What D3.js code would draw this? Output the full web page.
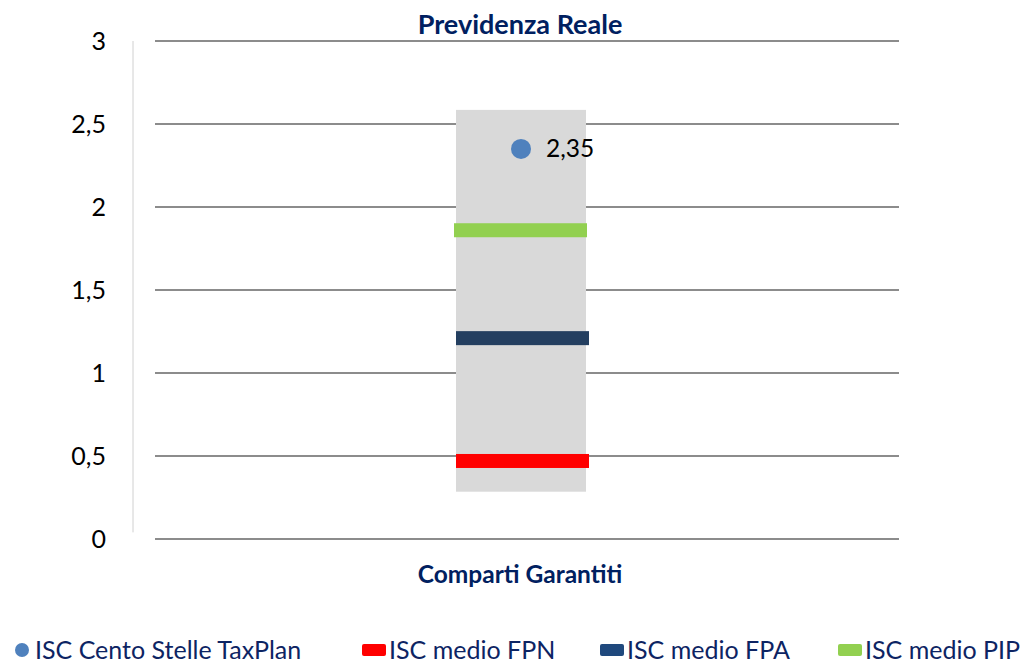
<!DOCTYPE html>
<html>
<head>
<meta charset="utf-8">
<script src="https://cdn.jsdelivr.net/npm/d3@7"></script>
<style>
  body { margin: 0; background: #fff; }
  svg { display: block; font-family: Lato, "Open Sans", sans-serif; }
</style>
</head>
<body>
<div id="chart"></div>
<script>
// data
const categories = ["Comparti Garantiti"];
const rangeMin = [0.285];
const rangeMax = [2.585];
const iscTaxPlan = [2.35];
const iscFPN = [0.47];
const iscFPA = [1.21];
const iscPIP = [1.86];
const yTicks = [0, 0.5, 1, 1.5, 2, 2.5, 3];

const width = 1033, height = 664;
const margin = { top: 41, right: 134, bottom: 125, left: 155 };
const fmt = d => String(d).replace(".", ",");

const svg = d3.select("#chart").append("svg")
    .attr("width", width)
    .attr("height", height);

const x = d3.scaleBand().domain(categories).range([margin.left, width - margin.right]);
const y = d3.scaleLinear().domain([0, 3]).range([height - margin.bottom, margin.top]);

// category centre sits a little left of the plot centre, like the original
const cx = c => x(c) + x.bandwidth() / 2 - 6;

// gridlines
svg.append("g")
    .selectAll("line")
    .data(yTicks)
    .join("line")
    .attr("x1", margin.left)
    .attr("x2", width - margin.right)
    .attr("y1", d => y(d))
    .attr("y2", d => y(d))
    .attr("stroke", "#8c8c8c")
    .attr("stroke-width", 2);

// y axis
const yAxis = svg.append("g")
    .attr("transform", `translate(133,0)`)
    .call(d3.axisLeft(y).tickValues(yTicks).tickFormat(fmt).tickSize(0).tickPadding(27))
    .attr("font-family", null);
yAxis.select(".domain").attr("stroke", "#d0d0d0").attr("d", `M0,${y(3)}V${y(0.04)}`);
yAxis.selectAll("text").attr("font-size", 25).attr("fill", "#000");

// min-max range box
svg.append("g")
    .selectAll("rect")
    .data(categories)
    .join("rect")
    .attr("x", c => cx(c) - 65)
    .attr("width", 130)
    .attr("y", (c, i) => y(rangeMax[i]))
    .attr("height", (c, i) => y(rangeMin[i]) - y(rangeMax[i]))
    .attr("fill", "#d9d9d9");

// average markers
const markers = [
    { name: "ISC medio FPN", values: iscFPN, color: "#ff0000", dx0: -65, dx1: 68 },
    { name: "ISC medio FPA", values: iscFPA, color: "#243f60", dx0: -65, dx1: 68 },
    { name: "ISC medio PIP", values: iscPIP, color: "#92d050", dx0: -67, dx1: 66 }
];
markers.forEach(m => {
    svg.append("g")
        .selectAll("rect")
        .data(categories)
        .join("rect")
        .attr("x", c => cx(c) + m.dx0)
        .attr("width", m.dx1 - m.dx0)
        .attr("y", (c, i) => y(m.values[i]) - 7)
        .attr("height", 14)
        .attr("fill", m.color);
});

// TaxPlan point + label
const pts = svg.append("g");
pts.selectAll("circle")
    .data(categories)
    .join("circle")
    .attr("cx", cx)
    .attr("cy", (c, i) => y(iscTaxPlan[i]))
    .attr("r", 10)
    .attr("fill", "#4f81bd");
pts.selectAll("text")
    .data(categories)
    .join("text")
    .attr("x", c => cx(c) + 25)
    .attr("y", (c, i) => y(iscTaxPlan[i]))
    .attr("dy", "0.35em")
    .attr("font-size", 24.5)
    .attr("fill", "#000")
    .text((c, i) => fmt(iscTaxPlan[i]));

// title and category label
svg.append("text")
    .attr("x", 520).attr("y", 34)
    .attr("text-anchor", "middle")
    .attr("font-size", 27).attr("font-weight", "bold")
    .attr("fill", "#002060")
    .text("Previdenza Reale");

svg.append("g")
    .selectAll("text")
    .data(categories)
    .join("text")
    .attr("x", 520).attr("y", 583)
    .attr("text-anchor", "middle")
    .attr("font-size", 24.5).attr("font-weight", "bold")
    .attr("fill", "#002060")
    .text(d => d);

// legend
const legend = [
    { name: "ISC Cento Stelle TaxPlan", color: "#4f81bd", shape: "circle", x: 12 },
    { name: "ISC medio FPN", color: "#ff0000", shape: "rect", x: 362 },
    { name: "ISC medio FPA", color: "#1f497d", shape: "rect", x: 600 },
    { name: "ISC medio PIP", color: "#92d050", shape: "rect", x: 838 }
];
const lg = svg.append("g").selectAll("g")
    .data(legend)
    .join("g")
    .attr("transform", d => `translate(${d.x},650)`);
lg.filter(d => d.shape === "circle").append("circle")
    .attr("cx", 10).attr("r", 7).attr("fill", d => d.color);
lg.filter(d => d.shape === "rect").append("rect")
    .attr("x", 0).attr("y", -6).attr("width", 24).attr("height", 12).attr("rx", 2)
    .attr("fill", d => d.color);
lg.append("text")
    .attr("x", d => d.shape === "circle" ? 23 : 27)
    .attr("dy", "0.34em")
    .attr("font-size", 25)
    .attr("fill", "#0d2463")
    .text(d => d.name);
</script>
</body>
</html>
